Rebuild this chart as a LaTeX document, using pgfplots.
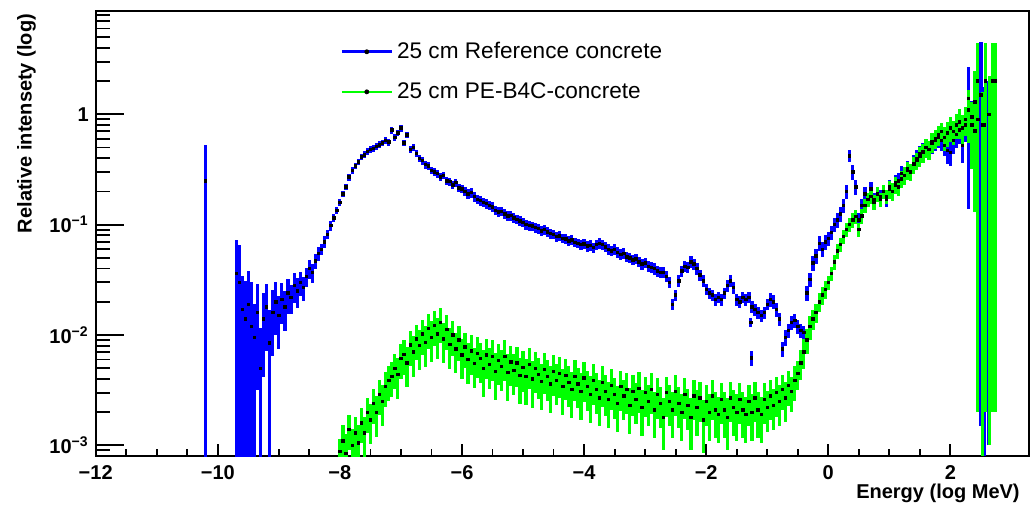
\documentclass[border=0pt]{standalone}
\usepackage{fontspec}
\setmainfont{Liberation Sans}
\usepackage{pgfplots}
\usepackage{pgfplotstable}
\pgfplotsset{compat=1.18}
\definecolor{rootblue}{RGB}{0,0,255}
\definecolor{rootgreen}{RGB}{0,255,0}

% x = log10(E/MeV), y = relative intensity, r = relative error
\pgfplotstableread[row sep=\\]{
x y r\\
-10.20 0.25 1.1\\
-9.70 0.036 1.0\\ -9.65 0.030 1.2\\ -9.60 0.017 1.0\\ -9.55 0.014 1.2\\ -9.50 0.019 1.0\\
-9.45 0.012 1.5\\ -9.40 0.0095 1.0\\ -9.35 0.016 0.8\\ -9.30 0.005 1.3\\ -9.25 0.014 0.7\\
-9.20 0.018 0.6\\ -9.15 0.0085 1.0\\ -9.10 0.016 0.6\\ -9.05 0.020 0.5\\ -9.00 0.015 0.5\\
-8.95 0.021 0.4\\ -8.90 0.018 0.4\\ -8.85 0.024 0.35\\ -8.80 0.022 0.3\\ -8.75 0.028 0.3\\
-8.70 0.025 0.3\\ -8.65 0.030 0.25\\ -8.60 0.027 0.25\\ -8.55 0.034 0.2\\ -8.50 0.040 0.2\\
-8.45 0.037 0.2\\ -8.40 0.047 0.15\\ -8.35 0.055 0.15\\ -8.30 0.060 0.12\\ -8.25 0.070 0.12\\
-8.20 0.082 0.1\\ -8.15 0.098 0.1\\ -8.10 0.115 0.08\\ -8.05 0.135 0.08\\ -8.00 0.160 0.07\\
-7.95 0.19 0.07\\ -7.90 0.22 0.07\\ -7.85 0.27 0.07\\ -7.80 0.31 0.07\\ -7.75 0.34 0.07\\
-7.70 0.37 0.07\\ -7.65 0.41 0.07\\ -7.60 0.43 0.07\\ -7.55 0.46 0.07\\ -7.50 0.48 0.07\\
-7.45 0.49 0.07\\ -7.40 0.51 0.07\\ -7.35 0.53 0.07\\ -7.30 0.55 0.07\\ -7.25 0.58 0.07\\
-7.20 0.56 0.07\\ -7.15 0.72 0.07\\ -7.10 0.62 0.07\\ -7.05 0.68 0.07\\ -7.00 0.75 0.07\\
-6.95 0.55 0.07\\ -6.90 0.65 0.07\\ -6.85 0.48 0.07\\ -6.80 0.50 0.07\\ -6.75 0.44 0.07\\
-6.70 0.40 0.08\\ -6.65 0.38 0.08\\ -6.60 0.35 0.08\\ -6.55 0.34 0.08\\ -6.50 0.31 0.08\\
-6.45 0.30 0.08\\ -6.40 0.29 0.08\\ -6.35 0.27 0.08\\ -6.30 0.28 0.08\\ -6.25 0.25 0.08\\
-6.20 0.245 0.08\\ -6.15 0.23 0.08\\ -6.10 0.24 0.08\\ -6.05 0.215 0.08\\ -6.00 0.21 0.08\\
-5.95 0.20 0.1\\ -5.90 0.19 0.1\\ -5.85 0.195 0.1\\ -5.80 0.18 0.1\\ -5.75 0.17 0.1\\
-5.70 0.165 0.1\\ -5.65 0.16 0.1\\ -5.60 0.155 0.1\\ -5.55 0.15 0.1\\ -5.50 0.145 0.1\\
-5.45 0.135 0.1\\ -5.40 0.13 0.1\\ -5.35 0.132 0.1\\ -5.30 0.125 0.1\\ -5.25 0.12 0.1\\
-5.20 0.121 0.1\\ -5.15 0.115 0.1\\ -5.10 0.112 0.1\\ -5.05 0.108 0.1\\ -5.00 0.105 0.1\\
-4.95 0.100 0.1\\ -4.90 0.098 0.1\\ -4.85 0.097 0.1\\ -4.80 0.094 0.1\\ -4.75 0.092 0.1\\
-4.70 0.088 0.1\\ -4.65 0.090 0.1\\ -4.60 0.086 0.1\\ -4.55 0.083 0.1\\ -4.50 0.082 0.1\\
-4.45 0.078 0.1\\ -4.40 0.079 0.1\\ -4.35 0.075 0.1\\ -4.30 0.074 0.1\\ -4.25 0.071 0.1\\
-4.20 0.073 0.1\\ -4.15 0.069 0.1\\ -4.10 0.068 0.1\\ -4.05 0.066 0.1\\ -4.00 0.067 0.1\\
-3.95 0.064 0.11\\ -3.90 0.065 0.11\\ -3.85 0.062 0.11\\ -3.80 0.066 0.11\\ -3.75 0.068 0.11\\
-3.70 0.066 0.11\\ -3.65 0.063 0.11\\ -3.60 0.060 0.11\\ -3.55 0.058 0.11\\ -3.50 0.060 0.11\\
-3.45 0.056 0.11\\ -3.40 0.054 0.11\\ -3.35 0.055 0.11\\ -3.30 0.051 0.11\\ -3.25 0.050 0.11\\
-3.20 0.048 0.11\\ -3.15 0.049 0.11\\ -3.10 0.046 0.11\\ -3.05 0.044 0.11\\ -3.00 0.045 0.11\\
-2.95 0.042 0.12\\ -2.90 0.041 0.12\\ -2.85 0.040 0.12\\ -2.80 0.038 0.12\\ -2.75 0.037 0.12\\
-2.70 0.037 0.12\\ -2.65 0.034 0.12\\ -2.60 0.030 0.12\\ -2.55 0.019 0.12\\ -2.50 0.023 0.12\\
-2.45 0.031 0.12\\ -2.40 0.038 0.12\\ -2.35 0.042 0.12\\ -2.30 0.041 0.12\\ -2.25 0.046 0.12\\
-2.20 0.044 0.12\\ -2.15 0.040 0.12\\ -2.10 0.035 0.12\\ -2.05 0.031 0.12\\ -2.00 0.026 0.12\\
-1.95 0.024 0.12\\ -1.90 0.023 0.12\\ -1.85 0.021 0.12\\ -1.80 0.022 0.12\\ -1.75 0.021 0.12\\
-1.70 0.024 0.12\\ -1.65 0.028 0.12\\ -1.60 0.031 0.12\\ -1.55 0.027 0.12\\ -1.50 0.021 0.12\\
-1.45 0.020 0.12\\ -1.40 0.022 0.12\\ -1.35 0.021 0.12\\ -1.30 0.022 0.12\\ -1.27 0.013 0.1\\
-1.26 0.0062 0.15\\ -1.25 0.018 0.12\\ -1.20 0.017 0.12\\ -1.15 0.016 0.12\\ -1.10 0.015 0.12\\
-1.05 0.016 0.12\\ -1.00 0.019 0.12\\ -0.95 0.021 0.14\\ -0.90 0.020 0.14\\ -0.85 0.017 0.14\\
-0.80 0.014 0.14\\ -0.75 0.0075 0.16\\ -0.70 0.0095 0.16\\ -0.65 0.011 0.15\\ -0.60 0.013 0.15\\
-0.55 0.0135 0.15\\ -0.50 0.012 0.15\\ -0.45 0.011 0.15\\ -0.40 0.0105 0.15\\ -0.35 0.024 0.15\\
-0.30 0.032 0.15\\ -0.25 0.045 0.15\\ -0.20 0.052 0.15\\ -0.15 0.068 0.15\\ -0.10 0.060 0.15\\
-0.05 0.070 0.15\\ 0.00 0.075 0.15\\ 0.05 0.085 0.15\\ 0.10 0.10 0.15\\ 0.15 0.11 0.15\\
0.20 0.125 0.15\\ 0.25 0.15 0.15\\ 0.30 0.20 0.15\\ 0.35 0.42 0.12\\ 0.40 0.30 0.15\\
0.45 0.22 0.15\\ 0.50 0.11 0.15\\ 0.55 0.15 0.15\\ 0.60 0.19 0.15\\ 0.65 0.17 0.15\\
0.70 0.21 0.15\\ 0.75 0.17 0.15\\ 0.80 0.19 0.15\\ 0.85 0.18 0.15\\ 0.90 0.20 0.15\\
0.95 0.17 0.15\\ 1.00 0.22 0.15\\ 1.05 0.20 0.18\\ 1.10 0.24 0.18\\ 1.15 0.25 0.18\\
1.20 0.29 0.18\\ 1.25 0.28 0.18\\ 1.30 0.32 0.18\\ 1.35 0.30 0.18\\ 1.40 0.36 0.18\\
1.45 0.40 0.18\\ 1.50 0.44 0.18\\ 1.55 0.46 0.2\\ 1.60 0.50 0.2\\ 1.65 0.48 0.2\\
1.70 0.55 0.2\\ 1.75 0.58 0.2\\ 1.80 0.62 0.2\\ 1.85 0.58 0.2\\ 1.90 0.52 0.2\\
1.95 0.47 0.25\\ 2.00 0.45 0.25\\ 2.05 0.58 0.25\\ 2.10 0.66 0.25\\ 2.15 0.72 0.25\\
2.20 0.52 0.3\\ 2.25 0.80 0.3\\ 2.30 1.4 0.9\\ 2.35 0.95 0.4\\ 2.40 0.71 0.5\\
2.45 0.9 0.8\\ 2.50 1.5 2.0\\ 2.55 0.8 1.2\\ 2.62 1.0 1.0\\
}\refdata

\pgfplotstableread[row sep=\\]{
x y r\\
-8.00 0.00088 0.3\\ -7.95 0.0011 0.4\\ -7.90 0.00085 0.5\\ -7.85 0.0014 0.35\\ -7.80 0.0010 0.4\\
-7.75 0.0013 0.4\\ -7.70 0.00105 0.45\\ -7.65 0.0016 0.35\\ -7.60 0.0013 0.4\\ -7.55 0.0020 0.35\\
-7.50 0.0017 0.4\\ -7.45 0.0024 0.35\\ -7.40 0.0020 0.4\\ -7.35 0.0029 0.35\\ -7.30 0.0025 0.4\\
-7.25 0.0034 0.35\\ -7.20 0.0039 0.35\\ -7.15 0.0042 0.35\\ -7.10 0.0050 0.35\\ -7.05 0.0044 0.4\\
-7.00 0.0061 0.35\\ -6.95 0.0067 0.35\\ -6.90 0.0056 0.4\\ -6.85 0.0081 0.35\\ -6.80 0.0070 0.4\\
-6.75 0.0092 0.35\\ -6.70 0.0080 0.4\\ -6.65 0.0102 0.35\\ -6.60 0.0086 0.4\\ -6.55 0.0115 0.35\\
-6.50 0.0095 0.4\\ -6.45 0.0122 0.35\\ -6.40 0.0102 0.4\\ -6.35 0.0130 0.35\\ -6.30 0.0092 0.4\\
-6.25 0.0112 0.35\\ -6.20 0.0082 0.4\\ -6.15 0.0100 0.35\\ -6.10 0.0075 0.4\\ -6.05 0.0090 0.35\\
-6.00 0.0066 0.4\\ -5.95 0.0078 0.35\\ -5.90 0.0060 0.4\\ -5.85 0.0072 0.4\\ -5.80 0.0055 0.4\\
-5.75 0.0068 0.4\\ -5.70 0.0061 0.4\\ -5.65 0.0050 0.45\\ -5.60 0.0066 0.4\\ -5.55 0.0054 0.4\\
-5.50 0.0064 0.4\\ -5.45 0.0047 0.45\\ -5.40 0.0059 0.4\\ -5.35 0.0052 0.4\\ -5.30 0.0064 0.4\\
-5.25 0.0046 0.45\\ -5.20 0.0057 0.4\\ -5.15 0.0048 0.4\\ -5.10 0.0056 0.4\\ -5.05 0.0043 0.45\\
-5.00 0.0051 0.4\\ -4.95 0.0042 0.45\\ -4.90 0.0054 0.4\\ -4.85 0.0040 0.45\\ -4.80 0.0050 0.4\\
-4.75 0.0044 0.4\\ -4.70 0.0038 0.45\\ -4.65 0.0049 0.4\\ -4.60 0.0042 0.4\\ -4.55 0.0036 0.45\\
-4.50 0.0047 0.4\\ -4.45 0.0039 0.4\\ -4.40 0.0045 0.4\\ -4.35 0.0034 0.45\\ -4.30 0.0043 0.4\\
-4.25 0.0037 0.4\\ -4.20 0.0032 0.45\\ -4.15 0.0042 0.4\\ -4.10 0.0036 0.4\\ -4.05 0.0031 0.45\\
-4.00 0.0041 0.4\\ -3.95 0.0034 0.4\\ -3.90 0.0029 0.45\\ -3.85 0.0039 0.4\\ -3.80 0.0032 0.4\\
-3.75 0.0027 0.45\\ -3.70 0.0037 0.4\\ -3.65 0.0031 0.4\\ -3.60 0.0026 0.45\\ -3.55 0.0035 0.4\\
-3.50 0.0029 0.4\\ -3.45 0.0024 0.45\\ -3.40 0.0034 0.4\\ -3.35 0.0028 0.4\\ -3.30 0.0032 0.4\\
-3.25 0.0023 0.45\\ -3.20 0.0031 0.4\\ -3.15 0.0026 0.4\\ -3.10 0.0033 0.4\\ -3.05 0.0022 0.45\\
-3.00 0.0030 0.4\\ -2.95 0.0025 0.4\\ -2.90 0.0032 0.4\\ -2.85 0.0021 0.45\\ -2.80 0.0029 0.4\\
-2.75 0.0024 0.4\\ -2.70 0.0018 0.5\\ -2.65 0.0030 0.4\\ -2.60 0.0025 0.4\\ -2.55 0.0021 0.45\\
-2.50 0.0031 0.4\\ -2.45 0.0024 0.4\\ -2.40 0.0020 0.45\\ -2.35 0.0029 0.4\\ -2.30 0.0023 0.4\\
-2.25 0.0018 0.5\\ -2.20 0.0028 0.4\\ -2.15 0.0022 0.45\\ -2.10 0.0027 0.4\\ -2.05 0.0017 0.5\\
-2.00 0.0025 0.4\\ -1.95 0.0020 0.45\\ -1.90 0.0028 0.4\\ -1.85 0.0021 0.45\\ -1.80 0.0019 0.45\\
-1.75 0.0026 0.4\\ -1.70 0.0021 0.45\\ -1.65 0.0018 0.5\\ -1.60 0.0027 0.4\\ -1.55 0.0022 0.45\\
-1.50 0.0020 0.45\\ -1.45 0.0026 0.4\\ -1.40 0.0021 0.45\\ -1.35 0.0019 0.45\\ -1.30 0.0025 0.4\\
-1.25 0.0020 0.45\\ -1.20 0.0027 0.4\\ -1.15 0.0021 0.45\\ -1.10 0.0019 0.45\\ -1.05 0.0026 0.4\\
-1.00 0.0022 0.4\\ -0.95 0.0028 0.4\\ -0.90 0.0023 0.4\\ -0.85 0.0030 0.4\\ -0.80 0.0025 0.4\\
-0.75 0.0032 0.35\\ -0.70 0.0027 0.4\\ -0.65 0.0035 0.35\\ -0.60 0.0031 0.35\\ -0.55 0.0039 0.35\\
-0.50 0.0045 0.3\\ -0.45 0.0056 0.3\\ -0.40 0.0070 0.3\\ -0.35 0.0090 0.25\\ -0.30 0.0120 0.25\\
-0.25 0.0140 0.2\\ -0.20 0.0160 0.2\\ -0.15 0.0200 0.2\\ -0.10 0.0230 0.18\\ -0.05 0.0260 0.18\\
0.00 0.030 0.15\\ 0.05 0.036 0.15\\ 0.10 0.046 0.15\\ 0.15 0.058 0.15\\ 0.20 0.066 0.15\\
0.25 0.078 0.15\\ 0.30 0.090 0.15\\ 0.35 0.100 0.15\\ 0.40 0.110 0.15\\ 0.45 0.118 0.15\\
0.50 0.090 0.15\\ 0.55 0.12 0.15\\ 0.60 0.15 0.15\\ 0.65 0.17 0.15\\ 0.70 0.18 0.15\\
0.75 0.16 0.15\\ 0.80 0.19 0.15\\ 0.85 0.17 0.15\\ 0.90 0.20 0.15\\ 0.95 0.18 0.15\\
1.00 0.21 0.18\\ 1.05 0.20 0.18\\ 1.10 0.23 0.18\\ 1.15 0.22 0.18\\ 1.20 0.26 0.18\\
1.25 0.28 0.18\\ 1.30 0.31 0.18\\ 1.35 0.30 0.18\\ 1.40 0.35 0.18\\ 1.45 0.38 0.18\\
1.50 0.42 0.2\\ 1.55 0.45 0.2\\ 1.60 0.50 0.2\\ 1.65 0.48 0.2\\ 1.70 0.56 0.2\\
1.75 0.60 0.2\\ 1.80 0.65 0.2\\ 1.85 0.70 0.2\\ 1.90 0.62 0.25\\ 1.95 0.68 0.25\\
2.00 0.75 0.25\\ 2.05 0.70 0.25\\ 2.10 0.80 0.25\\ 2.15 0.85 0.3\\ 2.20 0.75 0.3\\
2.25 0.90 0.3\\ 2.30 1.1 0.5\\ 2.35 0.8 0.6\\ 2.40 1.3 0.9\\ 2.44 2.0 1.2\\
2.52 0.8 1.0\\ 2.57 2.0 1.2\\ 2.64 1.0 1.2\\ 2.69 2.0 1.2\\ 2.74 2.0 1.2\\
}\pedata

\begin{document}
\begin{tikzpicture}
\useasboundingbox (-47.85pt,-24.5pt) rectangle (467.65pt,228pt);
% main axis: data, x ticks, legend
\begin{axis}[
  at={(0,0)}, anchor=south west,
  scale only axis, width=466.4pt, height=222.5pt,
  xmin=-12, xmax=3.28, ymode=log, ymin=8e-4, ymax=8.63,
  axis line style={line width=1pt},
  tick align=inside, xtick pos=left,
  xtick={-12,-10,-8,-6,-4,-2,0,2},
  xticklabels={−12,−10,−8,−6,−4,−2,0,2},
  minor x tick num=3,
  major tick length=6pt, minor tick length=3.5pt,
  tick style={line width=0.9pt, black},
  ytick=\empty, ytick style={draw=none},
  xticklabel style={font=\fontsize{10}{12}\selectfont\bfseries, yshift=-1.2pt},
  xlabel={Energy (log MeV)},
  xlabel style={font=\fontsize{10}{12}\selectfont\bfseries,
    at={(axis description cs:0.9909,-0.0944)}, anchor=base east, inner sep=0pt},
  legend style={at={(axis description cs:0.262,0.94)}, anchor=north west,
    draw=none, fill=none, inner sep=0pt, row sep=6.5pt,
    font=\fontsize{11.3}{13}\selectfont},
  legend cell align=left,
]
\addplot[black, only marks, mark=square*, mark size=0.6pt,
  legend image code/.code={\draw[rootblue,line width=1.3pt] (0pt,0pt) -- (25pt,0pt);
    \fill[black] (12.5pt,0pt) circle[radius=1pt];},
  error bars/.cd, y dir=both, y explicit, error mark=none,
  error bar style={rootblue, line width=1.6pt}]
  table[x=x, y=y, y error plus expr={\thisrow{y}*\thisrow{r}},
        y error minus expr={\thisrow{y}*min(\thisrow{r},0.999)}] {\refdata};
\addlegendentry{25 cm Reference concrete}
\addplot[black, only marks, mark=square*, mark size=0.6pt,
  legend image code/.code={\draw[rootgreen,line width=1.3pt] (0pt,0pt) -- (25pt,0pt);
    \fill[black] (12.5pt,0pt) circle[radius=1pt];},
  error bars/.cd, y dir=both, y explicit, error mark=none,
  error bar style={rootgreen, line width=1.6pt}]
  table[x=x, y=y, y error plus expr={\thisrow{y}*\thisrow{r}},
        y error minus expr={\thisrow{y}*min(\thisrow{r},0.999)}] {\pedata};
\addlegendentry{25 cm PE-B4C-concrete}
\end{axis}
% overlay axis: y ticks (longer) and y label
\begin{axis}[
  at={(0,0)}, anchor=south west,
  scale only axis, width=466.4pt, height=222.5pt,
  xmin=-12, xmax=3.28, ymode=log, ymin=8e-4, ymax=8.63,
  hide x axis,
  axis line style={line width=1pt},
  tick align=inside, ytick pos=left,
  ytick={0.001,0.01,0.1,1},
  yticklabels={10\textsuperscript{−3},10\textsuperscript{−2},10\textsuperscript{−1},1},
  minor ytick={0.0008,0.0009,0.002,0.003,0.004,0.005,0.006,0.007,0.008,0.009,
    0.02,0.03,0.04,0.05,0.06,0.07,0.08,0.09,0.2,0.3,0.4,0.5,0.6,0.7,0.8,0.9,
    2,3,4,5,6,7,8},
  major tick length=14pt, minor tick length=7pt,
  tick style={line width=0.9pt, black},
  yticklabel style={font=\fontsize{10}{12}\selectfont\bfseries},
  ylabel={Relative intensety (log)},
  ylabel style={font=\fontsize{10}{12}\selectfont\bfseries,
    at={(axis description cs:-0.0686,0.994)}, anchor=base east, inner sep=0pt},
]
\end{axis}
\end{tikzpicture}
\end{document}
